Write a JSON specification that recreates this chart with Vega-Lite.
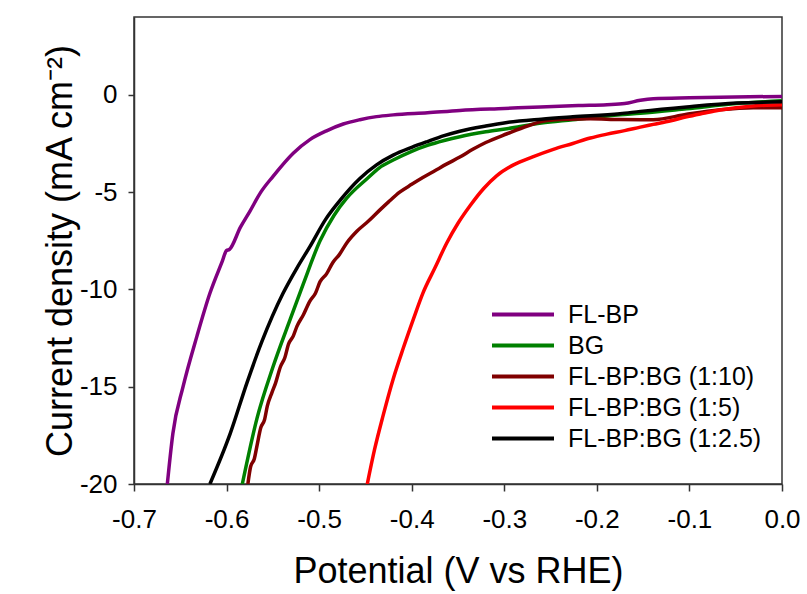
{
  "$schema": "https://vega.github.io/schema/vega-lite/v6.json",
  "width": 648,
  "height": 467,
  "autosize": {"type": "none"},
  "padding": {"left": 134, "top": 17, "right": 25, "bottom": 110},
  "background": "white",
  "config": {
    "font": "Liberation Sans",
    "view": {"stroke": "#333333", "strokeWidth": 1.5},
    "axis": {"grid": false, "domainColor": "#333333", "domainWidth": 1.5, "tickColor": "#333333", "tickWidth": 1.5, "labelColor": "#000000", "titleColor": "#000000", "labelFont": "Liberation Sans", "titleFont": "Liberation Sans", "titleFontWeight": "normal"}
  },
  "data": {"values": [
    {"s": "FL-BP", "x": -0.664, "y": -20},
    {"s": "FL-BP", "x": -0.658, "y": -17.4},
    {"s": "FL-BP", "x": -0.647, "y": -15.0},
    {"s": "FL-BP", "x": -0.632, "y": -12.4},
    {"s": "FL-BP", "x": -0.618, "y": -10.2},
    {"s": "FL-BP", "x": -0.605, "y": -8.6},
    {"s": "FL-BP", "x": -0.600, "y": -8.0},
    {"s": "FL-BP", "x": -0.597, "y": -7.95},
    {"s": "FL-BP", "x": -0.585, "y": -6.8},
    {"s": "FL-BP", "x": -0.575, "y": -6.0},
    {"s": "FL-BP", "x": -0.563, "y": -5.0},
    {"s": "FL-BP", "x": -0.550, "y": -4.2},
    {"s": "FL-BP", "x": -0.528, "y": -3.0},
    {"s": "FL-BP", "x": -0.510, "y": -2.3},
    {"s": "FL-BP", "x": -0.492, "y": -1.85},
    {"s": "FL-BP", "x": -0.474, "y": -1.5},
    {"s": "FL-BP", "x": -0.456, "y": -1.28},
    {"s": "FL-BP", "x": -0.438, "y": -1.12},
    {"s": "FL-BP", "x": -0.420, "y": -1.03},
    {"s": "FL-BP", "x": -0.383, "y": -0.92},
    {"s": "FL-BP", "x": -0.348, "y": -0.80},
    {"s": "FL-BP", "x": -0.300, "y": -0.70},
    {"s": "FL-BP", "x": -0.261, "y": -0.62},
    {"s": "FL-BP", "x": -0.220, "y": -0.55},
    {"s": "FL-BP", "x": -0.189, "y": -0.51},
    {"s": "FL-BP", "x": -0.170, "y": -0.45},
    {"s": "FL-BP", "x": -0.153, "y": -0.28},
    {"s": "FL-BP", "x": -0.139, "y": -0.20},
    {"s": "FL-BP", "x": -0.100, "y": -0.15},
    {"s": "FL-BP", "x": -0.067, "y": -0.12},
    {"s": "FL-BP", "x": 0.0, "y": -0.08},
    {"s": "BG", "x": -0.583, "y": -20},
    {"s": "BG", "x": -0.567, "y": -16.6},
    {"s": "BG", "x": -0.550, "y": -14.0},
    {"s": "BG", "x": -0.531, "y": -11.5},
    {"s": "BG", "x": -0.517, "y": -9.7},
    {"s": "BG", "x": -0.499, "y": -7.5},
    {"s": "BG", "x": -0.484, "y": -6.2},
    {"s": "BG", "x": -0.470, "y": -5.3},
    {"s": "BG", "x": -0.448, "y": -4.3},
    {"s": "BG", "x": -0.435, "y": -3.75},
    {"s": "BG", "x": -0.420, "y": -3.35},
    {"s": "BG", "x": -0.400, "y": -2.9},
    {"s": "BG", "x": -0.383, "y": -2.6},
    {"s": "BG", "x": -0.365, "y": -2.35},
    {"s": "BG", "x": -0.348, "y": -2.15},
    {"s": "BG", "x": -0.320, "y": -1.9},
    {"s": "BG", "x": -0.297, "y": -1.74},
    {"s": "BG", "x": -0.260, "y": -1.45},
    {"s": "BG", "x": -0.226, "y": -1.28},
    {"s": "BG", "x": -0.175, "y": -1.02},
    {"s": "BG", "x": -0.153, "y": -0.95},
    {"s": "BG", "x": -0.103, "y": -0.72},
    {"s": "BG", "x": -0.049, "y": -0.45},
    {"s": "BG", "x": 0.0, "y": -0.31},
    {"s": "FL-BP:BG (1:10)", "x": -0.577, "y": -20},
    {"s": "FL-BP:BG (1:10)", "x": -0.574, "y": -19.1},
    {"s": "FL-BP:BG (1:10)", "x": -0.570, "y": -18.7},
    {"s": "FL-BP:BG (1:10)", "x": -0.567, "y": -18.0},
    {"s": "FL-BP:BG (1:10)", "x": -0.563, "y": -17.1},
    {"s": "FL-BP:BG (1:10)", "x": -0.559, "y": -16.7},
    {"s": "FL-BP:BG (1:10)", "x": -0.556, "y": -16.0},
    {"s": "FL-BP:BG (1:10)", "x": -0.551, "y": -15.3},
    {"s": "FL-BP:BG (1:10)", "x": -0.547, "y": -14.8},
    {"s": "FL-BP:BG (1:10)", "x": -0.542, "y": -14.0},
    {"s": "FL-BP:BG (1:10)", "x": -0.537, "y": -13.5},
    {"s": "FL-BP:BG (1:10)", "x": -0.533, "y": -12.8},
    {"s": "FL-BP:BG (1:10)", "x": -0.528, "y": -12.4},
    {"s": "FL-BP:BG (1:10)", "x": -0.524, "y": -11.9},
    {"s": "FL-BP:BG (1:10)", "x": -0.517, "y": -11.3},
    {"s": "FL-BP:BG (1:10)", "x": -0.510, "y": -10.6},
    {"s": "FL-BP:BG (1:10)", "x": -0.504, "y": -10.2},
    {"s": "FL-BP:BG (1:10)", "x": -0.499, "y": -9.6},
    {"s": "FL-BP:BG (1:10)", "x": -0.492, "y": -9.2},
    {"s": "FL-BP:BG (1:10)", "x": -0.485, "y": -8.6},
    {"s": "FL-BP:BG (1:10)", "x": -0.478, "y": -8.2},
    {"s": "FL-BP:BG (1:10)", "x": -0.470, "y": -7.6},
    {"s": "FL-BP:BG (1:10)", "x": -0.459, "y": -7.0},
    {"s": "FL-BP:BG (1:10)", "x": -0.447, "y": -6.5},
    {"s": "FL-BP:BG (1:10)", "x": -0.434, "y": -5.9},
    {"s": "FL-BP:BG (1:10)", "x": -0.425, "y": -5.5},
    {"s": "FL-BP:BG (1:10)", "x": -0.413, "y": -5.0},
    {"s": "FL-BP:BG (1:10)", "x": -0.400, "y": -4.6},
    {"s": "FL-BP:BG (1:10)", "x": -0.388, "y": -4.25},
    {"s": "FL-BP:BG (1:10)", "x": -0.375, "y": -3.9},
    {"s": "FL-BP:BG (1:10)", "x": -0.362, "y": -3.55},
    {"s": "FL-BP:BG (1:10)", "x": -0.348, "y": -3.2},
    {"s": "FL-BP:BG (1:10)", "x": -0.334, "y": -2.8},
    {"s": "FL-BP:BG (1:10)", "x": -0.320, "y": -2.45},
    {"s": "FL-BP:BG (1:10)", "x": -0.297, "y": -2.0},
    {"s": "FL-BP:BG (1:10)", "x": -0.275, "y": -1.6},
    {"s": "FL-BP:BG (1:10)", "x": -0.254, "y": -1.32},
    {"s": "FL-BP:BG (1:10)", "x": -0.230, "y": -1.25},
    {"s": "FL-BP:BG (1:10)", "x": -0.207, "y": -1.23},
    {"s": "FL-BP:BG (1:10)", "x": -0.175, "y": -1.27},
    {"s": "FL-BP:BG (1:10)", "x": -0.139, "y": -1.28},
    {"s": "FL-BP:BG (1:10)", "x": -0.103, "y": -1.0},
    {"s": "FL-BP:BG (1:10)", "x": -0.067, "y": -0.77},
    {"s": "FL-BP:BG (1:10)", "x": -0.031, "y": -0.66},
    {"s": "FL-BP:BG (1:10)", "x": 0.0, "y": -0.66},
    {"s": "FL-BP:BG (1:5)", "x": -0.448, "y": -20},
    {"s": "FL-BP:BG (1:5)", "x": -0.440, "y": -18.2},
    {"s": "FL-BP:BG (1:5)", "x": -0.431, "y": -16.5},
    {"s": "FL-BP:BG (1:5)", "x": -0.420, "y": -14.6},
    {"s": "FL-BP:BG (1:5)", "x": -0.409, "y": -13.0},
    {"s": "FL-BP:BG (1:5)", "x": -0.398, "y": -11.5},
    {"s": "FL-BP:BG (1:5)", "x": -0.388, "y": -10.2},
    {"s": "FL-BP:BG (1:5)", "x": -0.375, "y": -8.9},
    {"s": "FL-BP:BG (1:5)", "x": -0.362, "y": -7.6},
    {"s": "FL-BP:BG (1:5)", "x": -0.350, "y": -6.6},
    {"s": "FL-BP:BG (1:5)", "x": -0.337, "y": -5.7},
    {"s": "FL-BP:BG (1:5)", "x": -0.322, "y": -4.8},
    {"s": "FL-BP:BG (1:5)", "x": -0.308, "y": -4.15},
    {"s": "FL-BP:BG (1:5)", "x": -0.290, "y": -3.6},
    {"s": "FL-BP:BG (1:5)", "x": -0.270, "y": -3.2},
    {"s": "FL-BP:BG (1:5)", "x": -0.247, "y": -2.8},
    {"s": "FL-BP:BG (1:5)", "x": -0.226, "y": -2.5},
    {"s": "FL-BP:BG (1:5)", "x": -0.207, "y": -2.22},
    {"s": "FL-BP:BG (1:5)", "x": -0.189, "y": -2.02},
    {"s": "FL-BP:BG (1:5)", "x": -0.170, "y": -1.84},
    {"s": "FL-BP:BG (1:5)", "x": -0.153, "y": -1.66},
    {"s": "FL-BP:BG (1:5)", "x": -0.139, "y": -1.52},
    {"s": "FL-BP:BG (1:5)", "x": -0.120, "y": -1.33},
    {"s": "FL-BP:BG (1:5)", "x": -0.103, "y": -1.13},
    {"s": "FL-BP:BG (1:5)", "x": -0.085, "y": -0.95},
    {"s": "FL-BP:BG (1:5)", "x": -0.067, "y": -0.78},
    {"s": "FL-BP:BG (1:5)", "x": -0.031, "y": -0.57},
    {"s": "FL-BP:BG (1:5)", "x": 0.0, "y": -0.51},
    {"s": "FL-BP:BG (1:2.5)", "x": -0.618, "y": -20},
    {"s": "FL-BP:BG (1:2.5)", "x": -0.596, "y": -17.4},
    {"s": "FL-BP:BG (1:2.5)", "x": -0.578, "y": -14.8},
    {"s": "FL-BP:BG (1:2.5)", "x": -0.562, "y": -12.7},
    {"s": "FL-BP:BG (1:2.5)", "x": -0.539, "y": -10.2},
    {"s": "FL-BP:BG (1:2.5)", "x": -0.524, "y": -8.9},
    {"s": "FL-BP:BG (1:2.5)", "x": -0.510, "y": -7.8},
    {"s": "FL-BP:BG (1:2.5)", "x": -0.493, "y": -6.4},
    {"s": "FL-BP:BG (1:2.5)", "x": -0.477, "y": -5.4},
    {"s": "FL-BP:BG (1:2.5)", "x": -0.456, "y": -4.3},
    {"s": "FL-BP:BG (1:2.5)", "x": -0.438, "y": -3.6},
    {"s": "FL-BP:BG (1:2.5)", "x": -0.420, "y": -3.1},
    {"s": "FL-BP:BG (1:2.5)", "x": -0.400, "y": -2.7},
    {"s": "FL-BP:BG (1:2.5)", "x": -0.383, "y": -2.4},
    {"s": "FL-BP:BG (1:2.5)", "x": -0.365, "y": -2.1},
    {"s": "FL-BP:BG (1:2.5)", "x": -0.348, "y": -1.87},
    {"s": "FL-BP:BG (1:2.5)", "x": -0.320, "y": -1.6},
    {"s": "FL-BP:BG (1:2.5)", "x": -0.297, "y": -1.42},
    {"s": "FL-BP:BG (1:2.5)", "x": -0.260, "y": -1.25},
    {"s": "FL-BP:BG (1:2.5)", "x": -0.226, "y": -1.13},
    {"s": "FL-BP:BG (1:2.5)", "x": -0.175, "y": -0.97},
    {"s": "FL-BP:BG (1:2.5)", "x": -0.153, "y": -0.85},
    {"s": "FL-BP:BG (1:2.5)", "x": -0.103, "y": -0.62},
    {"s": "FL-BP:BG (1:2.5)", "x": -0.049, "y": -0.42},
    {"s": "FL-BP:BG (1:2.5)", "x": 0.0, "y": -0.36}
  ]},
  "mark": {"type": "line", "strokeWidth": 3.5, "clip": true, "interpolate": "monotone"},
  "encoding": {
    "x": {
      "field": "x", "type": "quantitative",
      "scale": {"domain": [-0.7, 0.0], "nice": false, "zero": false},
      "axis": {
        "values": [-0.7, -0.6, -0.5, -0.4, -0.3, -0.2, -0.1, 0.0],
        "format": ".1f",
        "labelExpr": "replace(datum.label, '\u2212', '-')",
        "labelFlush": false, "labelOverlap": false,
        "labelFontSize": 26, "labelPadding": 15, "tickSize": 7,
        "title": "Potential (V vs RHE)", "titleFontSize": 36,
        "titleY": 70, "titleBaseline": "top"
      }
    },
    "y": {
      "field": "y", "type": "quantitative",
      "scale": {"domain": [-20, 4], "nice": false, "zero": false},
      "axis": {
        "values": [0, -5, -10, -15, -20],
        "format": "d",
        "labelExpr": "replace(datum.label, '\u2212', '-')",
        "labelFlush": false, "labelOverlap": false,
        "labelFontSize": 26, "labelPadding": 11, "tickSize": 6,
        "title": "Current density (mA cm\u207b\u00b2)", "titleFontSize": 36,
        "titleX": -74, "titleBaseline": "middle", "titleAngle": -90
      }
    },
    "color": {
      "field": "s", "type": "nominal",
      "scale": {
        "domain": ["FL-BP", "BG", "FL-BP:BG (1:10)", "FL-BP:BG (1:5)", "FL-BP:BG (1:2.5)"],
        "range": ["#800080", "#008000", "#800000", "#ff0000", "#000000"]
      },
      "legend": {
        "title": null, "orient": "none", "legendX": 356, "legendY": 282,
        "symbolType": "stroke", "symbolSize": 3844, "symbolStrokeWidth": 4,
        "labelFontSize": 25, "labelFont": "Liberation Sans", "labelColor": "#000000",
        "labelOffset": 12, "clipHeight": 31, "rowPadding": 0, "padding": 0,
        "labelLimit": 400
      }
    }
  }
}
